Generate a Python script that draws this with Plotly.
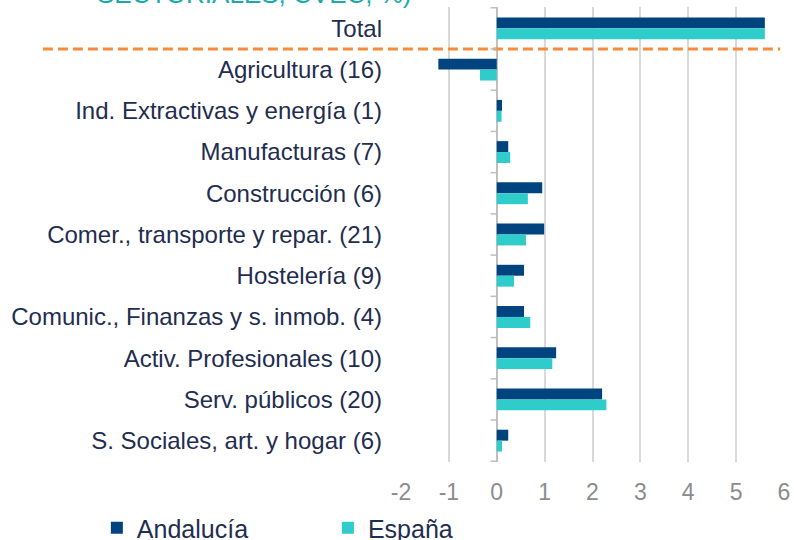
import plotly.graph_objects as go

categories = [
    "Total",
    "Agricultura (16)",
    "Ind. Extractivas y energía (1)",
    "Manufacturas (7)",
    "Construcción (6)",
    "Comer., transporte y repar. (21)",
    "Hostelería (9)",
    "Comunic., Finanzas y s. inmob. (4)",
    "Activ. Profesionales (10)",
    "Serv. públicos (20)",
    "S. Sociales, art. y hogar (6)",
]
andalucia = [5.6, -1.22, 0.11, 0.24, 0.95, 0.99, 0.57, 0.57, 1.24, 2.2, 0.24]
espana = [5.6, -0.35, 0.1, 0.28, 0.65, 0.61, 0.36, 0.7, 1.16, 2.29, 0.11]
x_ticks = [-2, -1, 0, 1, 2, 3, 4, 5, 6]
x_tick_labels = ["-2", "-1", "0", "1", "2", "3", "4", "5", "6"]
title_text = "SECTORIALES, CVEC, %)"

NAVY = "#00447F"
TEAL = "#2ECDCB"
LABEL = "#1F2D4F"
FONT = "Liberation Sans, Arial, sans-serif"

fig = go.Figure()
fig.add_trace(go.Bar(y=categories, x=andalucia, orientation="h", name="Andalucía",
                     marker=dict(color=NAVY, line=dict(width=0)), legend="legend"))
fig.add_trace(go.Bar(y=categories, x=espana, orientation="h", name="España",
                     marker=dict(color=TEAL, line=dict(width=0)), legend="legend2"))

shapes = []
# separator after Total
shapes.append(dict(type="line", xref="paper", yref="y", x0=-0.935, x1=0.99,
                   y0=0.5, y1=0.5, line=dict(color="#F58B3C", width=3, dash="10px,5px")))
# small tick marks on the zero axis at category boundaries
for i in range(len(categories) + 1):
    shapes.append(dict(type="line", xref="x", yref="y", x0=-0.13, x1=0,
                       y0=i - 0.5, y1=i - 0.5, line=dict(color="#BFBFBF", width=1.5)))

legend_common = dict(orientation="h", xref="container", yref="container",
                     xanchor="left", y=0.0222, yanchor="middle",
                     font=dict(size=25, color=LABEL), itemwidth=30,
                     bgcolor="rgba(0,0,0,0)")

fig.update_layout(
    width=794, height=540,
    margin=dict(l=401, r=10, t=7, b=78),
    paper_bgcolor="white", plot_bgcolor="white",
    barmode="group", bargap=0.47, bargroupgap=0,
    font=dict(family=FONT, color=LABEL),
    shapes=shapes,
    showlegend=True,
    legend=dict(x=0.122, **legend_common),
    legend2=dict(x=0.413, **legend_common),
    annotations=[dict(text=title_text, xref="paper", yref="paper", x=-0.80, y=0.991,
                      xanchor="left", yanchor="bottom", showarrow=False,
                      font=dict(size=26, color="#1AABA8", family=FONT))],
)
fig.update_xaxes(range=[-2, 6], tickvals=x_ticks, ticktext=x_tick_labels, showgrid=True,
                 gridcolor="#D9D9D9", gridwidth=1.5, zeroline=True, zerolinecolor="#BFBFBF",
                 zerolinewidth=1.5, showline=False, tickfont=dict(size=23, color="#8C8C8C"),
                 ticklabelstandoff=14, fixedrange=True, automargin=False)
fig.update_yaxes(autorange="reversed", showgrid=False, showline=False, ticks="",
                 tickfont=dict(size=24, color=LABEL), ticklabelstandoff=18, fixedrange=True,
                 automargin=False)

fig.write_html("out.html", post_script="document.body.style.margin='0';",
               config={"displayModeBar": False})
